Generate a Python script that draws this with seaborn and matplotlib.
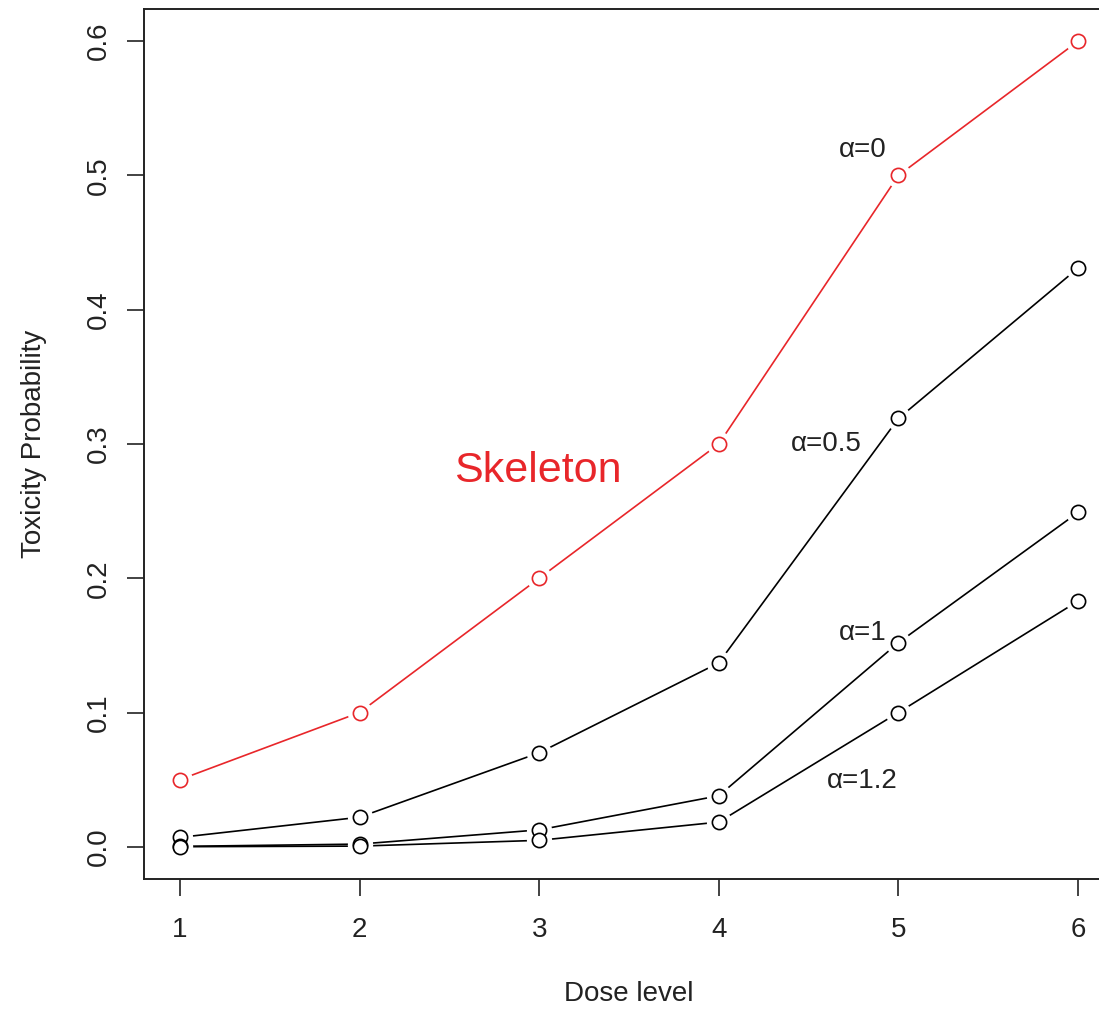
import numpy as np
import pandas as pd
import matplotlib
matplotlib.use('Agg')
import matplotlib.pyplot as plt
import seaborn as sns

# dose levels and toxicity probabilities
dose = [1, 2, 3, 4, 5, 6]
skeleton = [0.05, 0.10, 0.20, 0.30, 0.50, 0.60]
alpha_05 = [0.007, 0.022, 0.070, 0.137, 0.319, 0.431]
alpha_1 = [0.0003, 0.002, 0.0126, 0.038, 0.152, 0.249]
alpha_12 = [0.00005, 0.0005, 0.0048, 0.0184, 0.100, 0.183]

labels = ['α=0', 'α=0.5', 'α=1', 'α=1.2']
label_pos = [(4.80, 0.519), (4.60, 0.300), (4.80, 0.159), (4.80, 0.049)]

sns.set_style('ticks')
plt.rcParams['font.family'] = ['Liberation Sans', 'DejaVu Sans']

fig = plt.figure(figsize=(10.99, 10.10), dpi=100)
ax = fig.add_axes([0.131, 0.1297, 0.8826, 0.8614])

series = [('Skeleton', skeleton, '#e8262a'), ('a05', alpha_05, 'black'),
          ('a1', alpha_1, 'black'), ('a12', alpha_12, 'black')]

for name, vals, col in series:
    df = pd.DataFrame({'dose': dose, 'p': vals})
    sns.lineplot(data=df, x='dose', y='p', color=col, lw=1.2, ax=ax, zorder=2)
for name, vals, col in series:
    df = pd.DataFrame({'dose': dose, 'p': vals})
    # white halo so the line stops short of each point (R type="b")
    sns.scatterplot(data=df, x='dose', y='p', s=330, color='white',
                    edgecolor='white', linewidth=0, ax=ax, zorder=3)
for name, vals, col in series:
    df = pd.DataFrame({'dose': dose, 'p': vals})
    sns.scatterplot(data=df, x='dose', y='p', s=105, facecolor='white',
                    edgecolor=col, linewidth=1.2, ax=ax, zorder=4)

for lab, (lx, ly) in zip(labels, label_pos):
    ax.text(lx, ly, lab, fontsize=20, ha='center', va='center', color='#222222')
ax.text(2.99, 0.28, 'Skeleton', fontsize=31, ha='center', va='center', color='#e8262a')

ax.set_xlim(0.8, 6.2)
ax.set_ylim(-0.024, 0.624)
ax.set_xticks(dose)
ax.set_yticks([0.0, 0.1, 0.2, 0.3, 0.4, 0.5, 0.6])
ax.set_yticklabels(['0.0', '0.1', '0.2', '0.3', '0.4', '0.5', '0.6'],
                   rotation=90, va='center')
ax.tick_params(axis='both', length=12, width=1.2, labelsize=20, pad=15,
               colors='#222222')
ax.tick_params(axis='y', pad=11)
for sp in ax.spines.values():
    sp.set_visible(True)
    sp.set_linewidth(1.4)
    sp.set_color('#222222')

ax.set_xlabel('Dose level', fontsize=20, labelpad=28, color='#222222')
ax.set_ylabel('Toxicity Probability', fontsize=20, labelpad=28, color='#222222')

fig.savefig('out.png', dpi=100)
